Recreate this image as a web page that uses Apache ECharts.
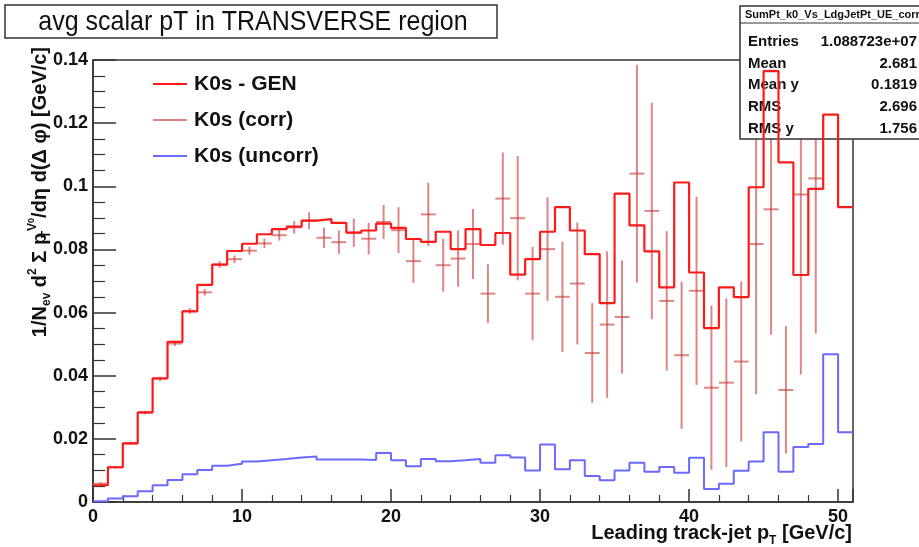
<!DOCTYPE html>
<html>
<head>
<meta charset="utf-8">
<script src="https://cdn.jsdelivr.net/npm/echarts@6/dist/echarts.min.js"></script>
<style>
  html, body { margin: 0; padding: 0; background: #fff; }
  #chart { width: 919px; height: 547px; }
</style>
</head>
<body>
<div id="chart"></div>
<script>
// Leading track-jet pT bins: 0..51 GeV/c, 1 GeV/c wide
const binLow = Array.from({ length: 51 }, (_, i) => i);

// K0s - GEN (histogram contents)
const genValues = [
  0.0053, 0.0110, 0.0186, 0.0284, 0.0392, 0.0507, 0.0604, 0.0688, 0.0752, 0.0795,
  0.0818, 0.0848, 0.0864, 0.0872, 0.0891, 0.0896, 0.0884, 0.0853, 0.0860, 0.0882,
  0.0868, 0.0833, 0.0824, 0.0856, 0.0801, 0.0864, 0.0814, 0.0852, 0.0720, 0.0769,
  0.0856, 0.0934, 0.0860, 0.0785, 0.0630, 0.0977, 0.0876, 0.0794, 0.0680, 0.1012,
  0.0727, 0.0551, 0.0680, 0.0649, 0.0997, 0.1365, 0.1076, 0.0719, 0.0992, 0.1227,
  0.0934
];

// K0s (corr): bin contents and errors
const corrValues = [
  0.0058, 0.0110, 0.0186, 0.0283, 0.0390, 0.0502, 0.0605, 0.0664, 0.0752, 0.0769,
  0.0796, 0.0819, 0.0845, 0.0870, 0.0891, 0.0837, 0.0823, 0.0853, 0.0834, 0.0887,
  0.0861, 0.0763, 0.0911, 0.0750, 0.0771, 0.0817, 0.0660, 0.0961, 0.0899, 0.0660,
  0.0801, 0.0650, 0.0692, 0.0472, 0.0562, 0.0586, 0.1040, 0.0922, 0.0637, 0.0465,
  0.0669, 0.0362, 0.0378, 0.0445, 0.0817, 0.0927, 0.0355, 0.0974, 0.1025, null,
  null
];
const corrErrors = [
  0.0004, 0.0004, 0.0005, 0.0006, 0.0007, 0.0008, 0.0009, 0.0010, 0.0011, 0.0012,
  0.0013, 0.0015, 0.0017, 0.0020, 0.0027, 0.0032, 0.0037, 0.0045, 0.0050, 0.0054,
  0.0073, 0.0069, 0.0100, 0.0084, 0.0089, 0.0111, 0.0093, 0.0146, 0.0197, 0.0148,
  0.0164, 0.0175, 0.0193, 0.0158, 0.0232, 0.0179, 0.0345, 0.0343, 0.0221, 0.0233,
  0.0298, 0.0260, 0.0267, 0.0253, 0.0476, 0.0397, 0.0202, 0.0570, 0.0491, null,
  null
];

// K0s (uncorr)
const uncorrValues = [
  0.0002, 0.0011, 0.0018, 0.0034, 0.0053, 0.0070, 0.0088, 0.0101, 0.0115, 0.0121,
  0.0128, 0.0132, 0.0136, 0.0141, 0.0144, 0.0135, 0.0135, 0.0135, 0.0133, 0.0155,
  0.0132, 0.0113, 0.0136, 0.0129, 0.0132, 0.0136, 0.0124, 0.0148, 0.0141, 0.0100,
  0.0182, 0.0104, 0.0132, 0.0082, 0.0069, 0.0100, 0.0124, 0.0096, 0.0111, 0.0093,
  0.0140, 0.0041, 0.0058, 0.0099, 0.0128, 0.0221, 0.0096, 0.0174, 0.0184, 0.0468,
  0.0221
];

const seriesNames = ['K0s - GEN', 'K0s (corr)', 'K0s (uncorr)'];
const statLabels = ['Entries', 'Mean', 'Mean y', 'RMS', 'RMS y'];
const statValues = ['1.088723e+07', '2.681', '0.1819', '2.696', '1.756'];
const statTitle = 'SumPt_k0_Vs_LdgJetPt_UE_corr';
const plotTitle = 'avg scalar pT in TRANSVERSE region';

const xMin = 0, xMax = 51, yMin = 0, yMax = 0.14;

const FONT = '"Liberation Sans", Arial, Helvetica, sans-serif';
const COL_GEN = '#ff1a1a';
const COL_CORR = 'rgba(200, 60, 60, 0.62)';
const COL_UNC = '#6a6aff';

// histogram outline: one point per lower bin edge plus the final upper edge
function stepData(vals) {
  const pts = binLow.map((x, i) => [x, vals[i]]);
  pts.push([binLow[binLow.length - 1] + 1, vals[vals.length - 1]]);
  return pts;
}

const corrData = [];
binLow.forEach((x, i) => {
  if (corrValues[i] != null) corrData.push([x + 0.5, corrValues[i], corrErrors[i]]);
});

const chart = echarts.init(document.getElementById('chart'), null, { renderer: 'canvas' });

const statGraphics = [];
statLabels.forEach((lab, i) => {
  const y = 42 + i * 21.6;
  statGraphics.push({
    type: 'text', z: 11, x: 748, y: y,
    style: { text: lab, font: 'bold 15px ' + FONT, fill: '#111', verticalAlign: 'middle', align: 'left' }
  });
  statGraphics.push({
    type: 'text', z: 11, x: 917, y: y,
    style: { text: statValues[i], font: 'bold 15px ' + FONT, fill: '#111', verticalAlign: 'middle', align: 'right' }
  });
});

const option = {
  animation: false,
  backgroundColor: '#fff',
  color: [COL_GEN, COL_CORR, COL_UNC],
  grid: {
    left: 93, top: 60, width: 760, height: 442,
    show: true, borderColor: '#333', borderWidth: 1.5, backgroundColor: 'transparent'
  },
  legend: {
    orient: 'vertical',
    left: 148, top: 68,
    itemWidth: 34, itemHeight: 2, itemGap: 14,
    icon: 'rect',
    selectedMode: false,
    textStyle: { fontFamily: FONT, fontSize: 21, fontWeight: 'bold', color: '#111', lineHeight: 22, padding: [0, 0, 0, 2] },
    data: seriesNames
  },
  xAxis: {
    type: 'value', min: xMin, max: xMax, interval: 10,
    axisLine: { show: true, lineStyle: { color: '#333', width: 1.5 } },
    axisTick: { show: true, inside: true, length: 13, lineStyle: { color: '#333', width: 1.5 } },
    minorTick: { show: true, splitNumber: 5, length: 7, lineStyle: { color: '#333', width: 1.2 } },
    splitLine: { show: false },
    axisLabel: { margin: 6, fontFamily: FONT, fontSize: 18, fontWeight: 'bold', color: '#111', showMaxLabel: false }
  },
  yAxis: {
    type: 'value', min: yMin, max: yMax, interval: 0.02,
    axisLine: { show: true, lineStyle: { color: '#333', width: 1.5 } },
    axisTick: { show: true, inside: true, length: 23, lineStyle: { color: '#333', width: 1.5 } },
    minorTick: { show: true, splitNumber: 4, length: 12, lineStyle: { color: '#333', width: 1.2 } },
    splitLine: { show: false },
    axisLabel: { margin: 5, fontFamily: FONT, fontSize: 18, fontWeight: 'bold', color: '#111' }
  },
  series: [
    {
      name: seriesNames[0], type: 'line', step: 'end', z: 20,
      data: stepData(genValues), showSymbol: false, symbol: 'none',
      itemStyle: { color: COL_GEN },
      lineStyle: { color: COL_GEN, width: 2.2 }
    },
    {
      name: seriesNames[1], type: 'custom', z: 5, clip: true,
      itemStyle: { color: COL_CORR },
      data: corrData,
      renderItem: function (params, api) {
        const xc = api.value(0), yv = api.value(1), e = api.value(2);
        const l = api.coord([xc - 0.5, yv]);
        const r = api.coord([xc + 0.5, yv]);
        const t = api.coord([xc, yv + e]);
        const b = api.coord([xc, yv - e]);
        const st = { stroke: COL_CORR, lineWidth: 2 };
        return {
          type: 'group',
          children: [
            { type: 'line', shape: { x1: l[0], y1: l[1], x2: r[0], y2: r[1] }, style: st },
            { type: 'line', shape: { x1: t[0], y1: t[1], x2: b[0], y2: b[1] }, style: st }
          ]
        };
      }
    },
    {
      name: seriesNames[2], type: 'line', step: 'end', z: 6,
      data: stepData(uncorrValues), showSymbol: false, symbol: 'none',
      itemStyle: { color: COL_UNC },
      lineStyle: { color: COL_UNC, width: 2 }
    }
  ],
  graphic: [
    // title box
    {
      type: 'rect', z: 10,
      shape: { x: 5, y: 5, width: 492, height: 33 },
      style: { fill: '#fff', stroke: '#333', lineWidth: 1.5 }
    },
    {
      type: 'text', z: 11, x: 253, y: 22, scaleY: 1.12,
      style: { text: plotTitle, font: '25px ' + FONT, fill: '#111', align: 'center', verticalAlign: 'middle' }
    },
    // statistics box
    {
      type: 'rect', z: 10,
      shape: { x: 740, y: 6, width: 190, height: 133 },
      style: { fill: '#fff', stroke: '#333', lineWidth: 1.5 }
    },
    {
      type: 'line', z: 11,
      shape: { x1: 740, y1: 23, x2: 930, y2: 23 },
      style: { stroke: '#333', lineWidth: 1.2 }
    },
    {
      type: 'text', z: 11, x: 745, y: 15,
      style: { text: statTitle, font: 'bold 11px ' + FONT, fill: '#111', align: 'left', verticalAlign: 'middle' }
    },
    ...statGraphics,
    // y axis title
    {
      type: 'text', z: 11, x: 40, y: 47, rotation: Math.PI / 2,
      style: {
        text: '{m|1/N}{sub|ev}{m| d}{sup|2}{m| \u03A3 p}{subT|T}{sup|V}{sup0|0}{m|/d\u03B7 d(\u0394 \u03C6) [GeV/c]}',
        align: 'right', verticalAlign: 'middle', fill: '#111',
        rich: {
          m: { fontFamily: FONT, fontSize: 20, fontWeight: 'bold', lineHeight: 26, verticalAlign: 'middle' },
          sub: { fontFamily: FONT, fontSize: 12, fontWeight: 'bold', lineHeight: 12, verticalAlign: 'bottom' },
          subT: { fontFamily: FONT, fontSize: 12, fontWeight: 'bold', lineHeight: 12, verticalAlign: 'bottom', width: 2 },
          sup: { fontFamily: FONT, fontSize: 12, fontWeight: 'bold', lineHeight: 12, verticalAlign: 'top' },
          sup0: { fontFamily: FONT, fontSize: 9, fontWeight: 'bold', lineHeight: 8, verticalAlign: 'top' }
        }
      }
    },
    // x axis title
    {
      type: 'text', z: 11, x: 852, y: 533,
      style: {
        text: '{m|Leading track-jet p}{sub|T}{m| [GeV/c]}',
        align: 'right', verticalAlign: 'middle', fill: '#111',
        rich: {
          m: { fontFamily: FONT, fontSize: 20, fontWeight: 'bold', lineHeight: 28, verticalAlign: 'middle' },
          sub: { fontFamily: FONT, fontSize: 12, fontWeight: 'bold', lineHeight: 12, verticalAlign: 'bottom' }
        }
      }
    }
  ]
};

chart.setOption(option);
</script>
</body>
</html>
